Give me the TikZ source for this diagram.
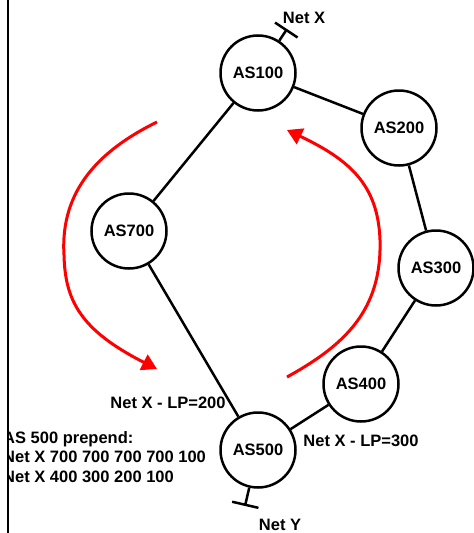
\documentclass[tikz,border=0pt]{standalone}
\usepackage{fontspec}
\setmainfont{Liberation Sans}
\usetikzlibrary{arrows.meta}
\definecolor{routered}{RGB}{255,0,0}
\tikzset{
  as/.style    ={circle,draw,line width=2.5pt,minimum size=75pt,
                 inner sep=0pt,font=\fontsize{16.5}{19.5}\selectfont\bfseries},
  link/.style  ={line width=2.5pt},
  stub/.style  ={line width=2.5pt,-{Bar[width=27pt,line width=2.5pt]}},
  route/.style ={line width=3pt,draw=routered,
                 -{Triangle[length=15pt,width=17pt]}},
  lbl/.style   ={font=\fontsize{16.5}{19.5}\selectfont\bfseries,inner sep=0pt},
}

\begin{document}
\begin{tikzpicture}[x=1pt,y=-1pt]
  \useasboundingbox (0,0) rectangle (474,533);
  \draw[line width=2.5pt] (8,0) -- (8,533);

  % autonomous systems
  \node[as] (as100) at (258,73)  {AS100};
  \node[as] (as200) at (399,128) {AS200};
  \node[as] (as300) at (436,268) {AS300};
  \node[as] (as400) at (361,384) {AS400};
  \node[as] (as500) at (258,450) {AS500};
  \node[as] (as700) at (129,231) {AS700};

  \draw[link] (as100) -- (as200);
  \draw[link] (as200) -- (as300);
  \draw[link] (as300) -- (as400);
  \draw[link] (as400) -- (as500);
  \draw[link] (as100) -- (as700);
  \draw[link] (as700) -- (as500);

  % networks
  \coordinate (netx) at (287,29);
  \coordinate (nety) at (245,506);
  \draw[stub] (as100) -- (netx);
  \draw[stub] (as500) -- (nety);
  \node[lbl] (netxlbl) at (304,18)  {Net X};
  \node[lbl] (netylbl) at (280,525) {Net Y};

  % local preference
  \node[lbl] (lp200) at (168,403) {Net X - LP=200};
  \node[lbl] (lp300) at (361,441) {Net X - LP=300};
  \begin{scope}
    \clip (8,0) rectangle (474,533);
    \node[lbl,align=left,anchor=west] (prepend) at (3,457)
      {AS 500 prepend:\\Net X 700 700 700 700 100\\Net X 400 300 200 100};
  \end{scope}

  % announcements
  \draw[route] (157,122) .. controls (100,150) and (60,190) .. (64,255)
               .. controls (65,300) and (80,330) .. (157,369);
  \draw[route] (287,377) .. controls (345,345) and (382,310) .. (380,240)
               .. controls (378,185) and (350,160) .. (287,130);
\end{tikzpicture}
\end{document}
